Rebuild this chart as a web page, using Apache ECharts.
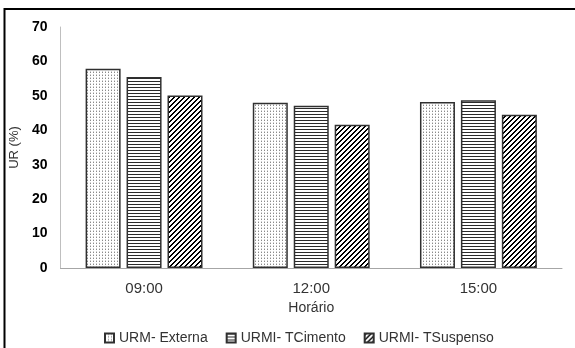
<!DOCTYPE html>
<html>
<head>
<meta charset="utf-8">
<script src="https://cdn.jsdelivr.net/npm/echarts@6/dist/echarts.min.js"></script>
<style>
  html, body { margin: 0; padding: 0; background: #fff; }
  #chart { width: 575px; height: 348px; }
</style>
</head>
<body>
<div id="chart"></div>
<script>
// Relative humidity by time of day, three measurement points
const horarios = ['09:00', '12:00', '15:00'];
const seriesNames = ['URM- Externa', 'URMI- TCimento', 'URMI- TSuspenso'];
const urExterna = [57.9, 48.0, 48.2];
const urTCimento = [55.5, 47.1, 48.7];
const urTSuspenso = [50.1, 41.6, 44.5];

const FONT = 'Liberation Sans, Arial, sans-serif';

// Small canvas tiles used as repeating fill patterns
function tile(w, h, paint) {
  const c = document.createElement('canvas');
  c.width = w; c.height = h;
  const ctx = c.getContext('2d');
  ctx.fillStyle = '#fff';
  ctx.fillRect(0, 0, w, h);
  paint(ctx, w, h);
  return c;
}

const dotTile = tile(3, 3, (ctx) => {
  ctx.fillStyle = '#8a8a8a';
  ctx.fillRect(0, 0, 1, 1);
  ctx.fillStyle = '#d0d0d0';
  ctx.fillRect(0, 2, 1, 1);
});

const hLineTile = tile(1, 3, (ctx) => {
  ctx.fillStyle = '#2a2a2a';
  ctx.fillRect(0, 0, 1, 1);
});

const diagTile = tile(5, 5, (ctx, w, h) => {
  for (let x = 0; x < w; x++) {
    for (let y = 0; y < h; y++) {
      const k = (x + y) % 5;
      if (k === 0 || k === 1) {
        ctx.fillStyle = '#000';
        ctx.fillRect(x, y, 1, 1);
      }
    }
  }
});

function barStyle(t) {
  return {
    color: { image: t, repeat: 'repeat' },
    borderColor: '#303030',
    borderWidth: 1.5
  };
}

const values = [urExterna, urTCimento, urTSuspenso];
const tiles = [dotTile, hLineTile, diagTile];

const chart = echarts.init(document.getElementById('chart'), null, { renderer: 'canvas' });

chart.setOption({
  animation: false,
  backgroundColor: '#fff',
  grid: { left: 55, right: 13, top: 27, bottom: 80, containLabel: false },
  graphic: [{
    type: 'rect',
    shape: { x: 4.5, y: 9, width: 700, height: 500 },
    style: { fill: 'none', stroke: '#000', lineWidth: 2 },
    silent: true
  }],
  legend: {
    left: 99,
    top: 326,
    itemWidth: 9,
    itemHeight: 9,
    itemGap: 18,
    icon: 'rect',
    textStyle: { fontFamily: FONT, fontSize: 14, color: '#333' },
    data: seriesNames
  },
  xAxis: {
    type: 'category',
    data: horarios,
    name: 'Horário',
    nameLocation: 'middle',
    nameGap: 28,
    nameTextStyle: { fontFamily: FONT, fontSize: 14, color: '#333' },
    axisLine: { lineStyle: { color: '#a6a6a6', width: 1 } },
    axisTick: { show: false },
    axisLabel: { fontFamily: FONT, fontSize: 15, color: '#333', margin: 13 }
  },
  yAxis: {
    type: 'value',
    min: 0,
    max: 70,
    interval: 10,
    name: 'UR (%)',
    nameLocation: 'middle',
    nameGap: 35,
    nameTextStyle: { fontFamily: FONT, fontSize: 13, color: '#333' },
    axisLine: { show: true, lineStyle: { color: '#bfbfbf', width: 1 } },
    axisTick: { show: false },
    splitLine: { show: false },
    axisLabel: { fontFamily: FONT, fontSize: 14, fontWeight: 'bold', color: '#000', margin: 13 }
  },
  series: seriesNames.map((name, i) => ({
    name: name,
    type: 'bar',
    data: values[i],
    barWidth: 35,
    barGap: '17%',
    itemStyle: barStyle(tiles[i])
  }))
});
</script>
</body>
</html>
